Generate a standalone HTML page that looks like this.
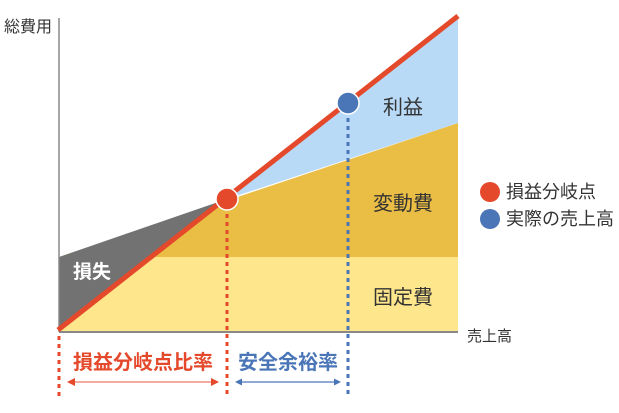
<!DOCTYPE html>
<html><head><meta charset="utf-8"><style>
html,body{margin:0;padding:0;background:#fff;}
svg{display:block;font-family:"Liberation Sans","Noto Sans CJK JP",sans-serif;}
</style></head><body>
<svg width="619" height="413" viewBox="0 0 619 413" xmlns="http://www.w3.org/2000/svg">
<rect x="59" y="257" width="399" height="75" fill="#fde68b"/>
<polygon points="59,257 458,123 458,257" fill="#eabd45"/>
<polygon points="227,199 458,18 458,123" fill="#b8daf7"/>
<polygon points="59,257 227,199 59,331" fill="#727272"/>
<line x1="59" y1="18" x2="59" y2="332" stroke="#888" stroke-width="1.5"/>
<line x1="59" y1="332" x2="458" y2="332" stroke="#888" stroke-width="2"/>
<line x1="58" y1="330" x2="458" y2="16" stroke="#e4492b" stroke-width="5"/>
<line x1="227" y1="206" x2="227" y2="396" stroke="#e4492b" stroke-width="3" stroke-dasharray="4,4"/>
<line x1="348" y1="110" x2="348" y2="396" stroke="#4a76b7" stroke-width="3" stroke-dasharray="4,4"/>
<line x1="59" y1="336" x2="59" y2="396" stroke="#e4492b" stroke-width="3" stroke-dasharray="4,4"/>
<circle cx="227" cy="199" r="11" fill="#e4492b" stroke="#fff" stroke-width="1.5"/>
<circle cx="348" cy="103" r="11" fill="#4a76b7" stroke="#fff" stroke-width="1.5"/>
<text x="4" y="32" font-size="16" fill="#333">総費用</text>
<text x="467" y="341" font-size="15" fill="#333">売上高</text>
<text x="73" y="278" font-size="19" font-weight="bold" fill="#fff">損失</text>
<text x="403" y="114" font-size="20" fill="#333" text-anchor="middle">利益</text>
<text x="403" y="210" font-size="20" fill="#333" text-anchor="middle">変動費</text>
<text x="403" y="304" font-size="20" fill="#333" text-anchor="middle">固定費</text>
<circle cx="490" cy="192" r="10" fill="#e4492b"/>
<circle cx="490" cy="219" r="10" fill="#4a76b7"/>
<text x="506" y="198" font-size="18" fill="#333">損益分岐点</text>
<text x="506" y="225" font-size="18" fill="#333">実際の売上高</text>
<text x="143" y="369" font-size="20" font-weight="bold" fill="#e4492b" text-anchor="middle">損益分岐点比率</text>
<text x="288" y="369" font-size="20" font-weight="bold" fill="#4a76b7" text-anchor="middle">安全余裕率</text>
<line x1="70" y1="382" x2="216" y2="382" stroke="#ef8f80" stroke-width="1.5"/>
<polygon points="67,382 75,378 75,386" fill="#e4492b"/>
<polygon points="219,382 211,378 211,386" fill="#e4492b"/>
<line x1="238" y1="382" x2="338" y2="382" stroke="#4a76b7" stroke-width="1.2"/>
<polygon points="235,382 242,378.5 242,385.5" fill="#4a76b7"/>
<polygon points="341,382 334,378.5 334,385.5" fill="#4a76b7"/>
</svg>
</body></html>
